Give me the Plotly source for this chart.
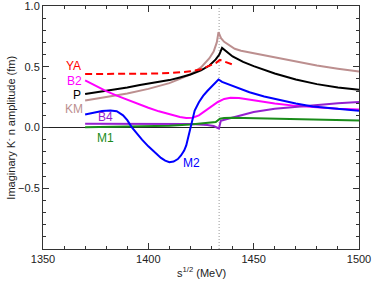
import plotly.graph_objects as go

# ---- data ----
ya_x = [1370, 1380, 1390, 1400, 1410, 1415, 1420, 1425, 1429, 1432, 1434, 1436, 1438, 1440.5]
ya_y = [0.440, 0.440, 0.441, 0.443, 0.448, 0.452, 0.462, 0.480, 0.505, 0.530, 0.556, 0.545, 0.532, 0.515]

p_x = [1370, 1380, 1390, 1396, 1400, 1410, 1415, 1420, 1425, 1429, 1432, 1433.7, 1435, 1437, 1440, 1445, 1450, 1460, 1470, 1480, 1490, 1500]
p_y = [0.276, 0.302, 0.330, 0.350, 0.362, 0.390, 0.412, 0.436, 0.470, 0.510, 0.560, 0.600, 0.655, 0.625, 0.585, 0.540, 0.505, 0.445, 0.395, 0.357, 0.330, 0.310]

km_x = [1370, 1380, 1390, 1400, 1410, 1415, 1420, 1425, 1429, 1431, 1432.5, 1433.3, 1434.5, 1436, 1438, 1441, 1444, 1450, 1460, 1470, 1480, 1490, 1500]
km_y = [0.222, 0.248, 0.280, 0.318, 0.365, 0.400, 0.438, 0.495, 0.570, 0.625, 0.700, 0.785, 0.735, 0.705, 0.680, 0.648, 0.632, 0.612, 0.575, 0.542, 0.510, 0.484, 0.461]

b2_x = [1370, 1375, 1380, 1385, 1390, 1395, 1400, 1405, 1410, 1415, 1418, 1421, 1424, 1427, 1430, 1433, 1436, 1439, 1443, 1450, 1460, 1470, 1480, 1490, 1500]
b2_y = [0.387, 0.342, 0.300, 0.262, 0.228, 0.195, 0.163, 0.133, 0.107, 0.087, 0.079, 0.080, 0.100, 0.135, 0.175, 0.210, 0.235, 0.245, 0.243, 0.225, 0.197, 0.178, 0.163, 0.154, 0.148]

m2_x = [1370, 1374, 1378, 1382, 1385, 1388, 1390, 1392, 1394, 1397, 1400, 1403, 1406, 1408, 1410, 1412, 1414, 1415.5, 1417, 1418, 1419, 1420, 1421, 1422, 1424, 1426, 1428, 1430, 1432, 1433.3, 1435, 1438, 1442, 1448, 1455, 1462, 1470, 1478, 1490, 1500]
m2_y = [0.107, 0.122, 0.135, 0.140, 0.134, 0.100, 0.060, 0.005, -0.040, -0.100, -0.155, -0.205, -0.250, -0.273, -0.286, -0.280, -0.260, -0.230, -0.190, -0.148, -0.080, 0.000, 0.080, 0.140, 0.208, 0.260, 0.300, 0.335, 0.370, 0.395, 0.375, 0.355, 0.330, 0.290, 0.255, 0.225, 0.197, 0.172, 0.150, 0.137]

b4_x = [1370, 1390, 1410, 1420, 1428, 1431, 1433.5, 1434.4, 1437, 1440, 1445, 1450, 1460, 1470, 1480, 1490, 1500]
b4_y = [0.030, 0.030, 0.030, 0.028, 0.020, 0.012, -0.008, 0.055, 0.068, 0.082, 0.105, 0.128, 0.155, 0.172, 0.188, 0.200, 0.209]

m1_x = [1370, 1390, 1400, 1410, 1420, 1428, 1432, 1434, 1436, 1440, 1450, 1460, 1470, 1480, 1490, 1500]
m1_y = [0.003, 0.006, 0.010, 0.015, 0.025, 0.036, 0.045, 0.072, 0.079, 0.080, 0.077, 0.072, 0.067, 0.063, 0.060, 0.057]

threshold = 1433.6

x_ticks = [1350, 1400, 1450, 1500]
y_ticks = [-0.5, 0.0, 0.5, 1.0]

labels = ["YA", "B2", "P", "KM", "B4", "M1", "M2"]
label_x = [1364.6, 1365.0, 1366.2, 1364.6, 1379.5, 1379.8, 1420.5]
label_y = [0.505, 0.385, 0.270, 0.155, 0.085, -0.087, -0.293]

colors = {"YA": "#ff0000", "B2": "#ff00ff", "P": "#000000", "KM": "#bc8f8f",
          "B4": "#9420d0", "M1": "#1a8c1a", "M2": "#0000ff"}

FONT = "Liberation Sans, Arial, sans-serif"

fig = go.Figure()

series = [
    ("KM", km_x, km_y, "solid"),
    ("P", p_x, p_y, "solid"),
    ("YA", ya_x, ya_y, "7px,4px"),
    ("B2", b2_x, b2_y, "solid"),
    ("B4", b4_x, b4_y, "solid"),
    ("M1", m1_x, m1_y, "solid"),
    ("M2", m2_x, m2_y, "solid"),
]
for name, xs, ys, dash in series:
    fig.add_trace(go.Scatter(x=xs, y=ys, mode="lines", name=name,
                             line=dict(color=colors[name], width=2, dash=dash),
                             showlegend=False))

fig.add_shape(type="line", x0=threshold, x1=threshold, y0=-1, y1=1, xref="x", yref="y",
              line=dict(color="#999999", width=1, dash="1px,2px"), layer="below")

for lab, lx, ly in zip(labels, label_x, label_y):
    fig.add_annotation(x=lx, y=ly, text=lab, showarrow=False, xanchor="center", yanchor="middle",
                       font=dict(color=colors[lab], size=12, family=FONT))

# axis titles
fig.add_annotation(xref="paper", yref="paper", x=-0.104, y=0.5, text="Imaginary K<sup>-</sup> n amplitude (fm)",
                   textangle=-90, showarrow=False, xanchor="center", yanchor="middle",
                   font=dict(size=11, color="#222222", family=FONT))
fig.add_annotation(xref="paper", yref="paper", x=0.5, y=-0.095, text="s<sup>1/2</sup> (MeV)",
                   showarrow=False, xanchor="center", yanchor="middle",
                   font=dict(size=11, color="#222222", family=FONT))

axis_common = dict(showgrid=False, ticks="inside", mirror="ticks", showline=True, automargin=False,
                   linecolor="#333333", linewidth=1, tickcolor="#333333", ticklabeloverflow="allow",
                   tickfont=dict(size=11, color="#222222", family=FONT))

fig.update_xaxes(range=[1350, 1500], tickvals=x_ticks, ticklen=6, zeroline=False,
                 minor=dict(dtick=10, ticks="inside", ticklen=3, tickcolor="#333333"),
                 **axis_common)
fig.update_yaxes(range=[-1, 1], tickvals=y_ticks, tickformat=".1f", ticklen=6,
                 zeroline=True, zerolinecolor="#222222", zerolinewidth=1,
                 minor=dict(dtick=0.1, ticks="inside", ticklen=3, tickcolor="#333333"),
                 **axis_common)

fig.update_layout(width=374, height=284, margin=dict(l=43, r=15, t=6, b=35),
                  plot_bgcolor="white", paper_bgcolor="white")

fig.write_html("out.html", config={"displayModeBar": False},
               post_script="document.body.style.margin='0';document.body.style.overflow='hidden';")
